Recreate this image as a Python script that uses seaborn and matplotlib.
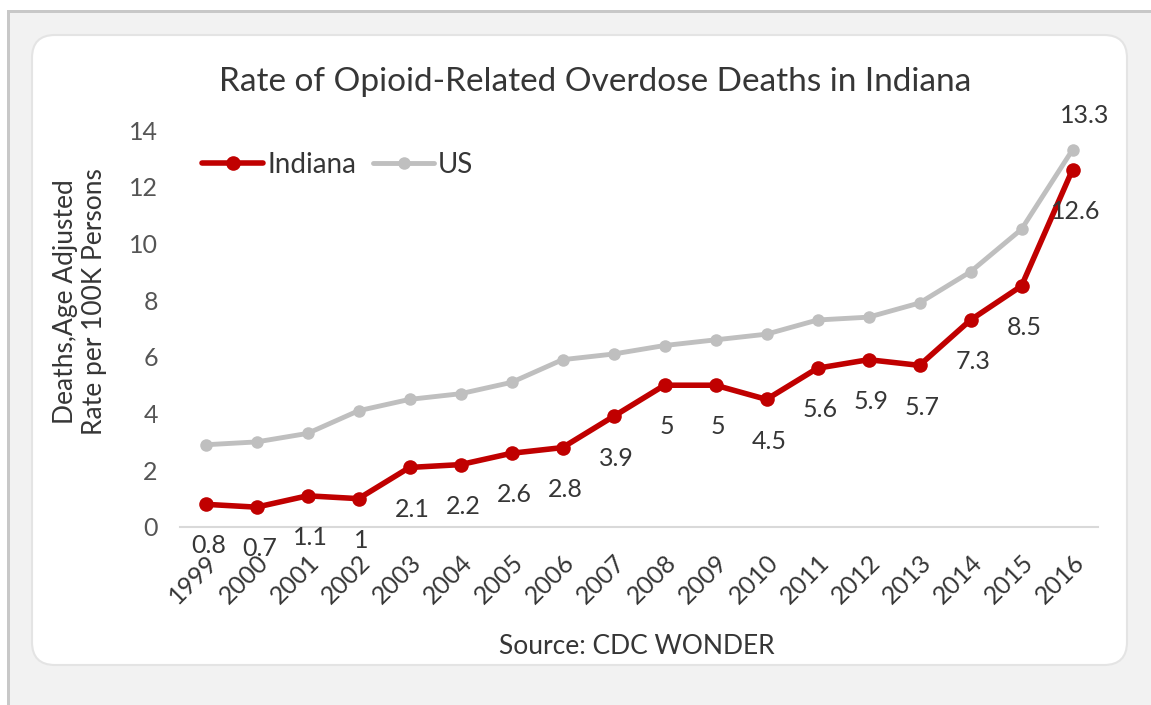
import numpy as np
import pandas as pd
import matplotlib
matplotlib.use("Agg")
import matplotlib.pyplot as plt
from matplotlib.patches import FancyBboxPatch, Rectangle
from matplotlib.lines import Line2D
import seaborn as sns

years = [1999, 2000, 2001, 2002, 2003, 2004, 2005, 2006, 2007, 2008,
         2009, 2010, 2011, 2012, 2013, 2014, 2015, 2016]
indiana = [0.8, 0.7, 1.1, 1.0, 2.1, 2.2, 2.6, 2.8, 3.9, 5.0,
           5.0, 4.5, 5.6, 5.9, 5.7, 7.3, 8.5, 12.6]
us = [2.9, 3.0, 3.3, 4.1, 4.5, 4.7, 5.1, 5.9, 6.1, 6.4,
      6.6, 6.8, 7.3, 7.4, 7.9, 9.0, 10.5, 13.3]
indiana_labels = ["0.8", "0.7", "1.1", "1", "2.1", "2.2", "2.6", "2.8", "3.9", "5",
                  "5", "4.5", "5.6", "5.9", "5.7", "7.3", "8.5", "12.6"]
us_label = "13.3"
y_ticks = [0, 2, 4, 6, 8, 10, 12, 14]

sns.set_theme(style="white")
plt.rcParams['font.family'] = ['Lato', 'DejaVu Sans']

TXT = "#363636"
W, H = 1151, 705
fig = plt.figure(figsize=(W / 100, H / 100), dpi=100)
fig.patch.set_facecolor("white")

# outer frame and background
fig.patches.append(Rectangle((7 / W, 0), (W - 7) / W, (H - 10) / H, transform=fig.transFigure,
                             facecolor="#f2f2f2", edgecolor="none", zorder=-10))
fig.patches.append(Rectangle((7 / W, 0), 3 / W, (H - 10) / H, transform=fig.transFigure,
                             facecolor="#c8c8c8", edgecolor="none", zorder=-9))
fig.patches.append(Rectangle((7 / W, (H - 13) / H), (W - 7) / W, 3 / H, transform=fig.transFigure,
                             facecolor="#c8c8c8", edgecolor="none", zorder=-9))
fig.patches.append(FancyBboxPatch((32 / W, (H - 665) / H), (1127 - 32) / W, (665 - 35) / H,
                                  boxstyle="round,pad=0,rounding_size=0.02",
                                  transform=fig.transFigure, facecolor="white",
                                  edgecolor="#e4e4e4", linewidth=1.5, zorder=-8,
                                  mutation_aspect=W / H))

ax = fig.add_axes([180 / W, 1 - 527 / H, (1098 - 180) / W, (527 - 130) / H])
ax.set_facecolor("none")

df = pd.DataFrame({
    "Year": years * 2,
    "Rate": indiana + us,
    "Series": ["Indiana"] * len(years) + ["US"] * len(years),
})

sns.lineplot(data=df[df.Series == "US"], x="Year", y="Rate", color="#bfbfbf",
             marker="o", markersize=9, markeredgewidth=0, linewidth=3.5, ax=ax, legend=False)
sns.lineplot(data=df[df.Series == "Indiana"], x="Year", y="Rate", color="#c00000",
             marker="o", markersize=10.5, markeredgewidth=0, linewidth=4, ax=ax, legend=False)

ax.set_xlim(years[0] - 0.5, years[-1] + 0.5)
ax.set_ylim(0, 14)
ax.set_yticks(y_ticks)
ax.set_yticklabels([str(t) for t in y_ticks], fontsize=18, color="#555555")
ax.set_xticks(years)
ax.set_xticklabels([str(y) for y in years], rotation=45, ha="right",
                   rotation_mode="anchor", fontsize=18, color=TXT)
ax.tick_params(axis="y", length=0, pad=16)
ax.tick_params(axis="x", length=0, pad=17)
# boundary tick marks (Excel style)
ax.set_xticks([y + 0.5 for y in years[:-1]], minor=True)
ax.tick_params(axis="x", which="minor", length=5, color="#d9d9d9", width=1, direction="out")
for s in ["top", "right", "left"]:
    ax.spines[s].set_visible(False)
ax.spines["bottom"].set_color("#d9d9d9")
ax.spines["bottom"].set_linewidth(1.5)
ax.set_xlabel("")
ax.set_ylabel("")

for x, v, lab in zip(years, indiana, indiana_labels):
    ax.annotate(lab, (x, v), xytext=(2, -30), textcoords="offset points",
                ha="center", va="center", fontsize=18, color=TXT,
                annotation_clip=False)
ax.annotate(us_label, (years[-1], us[-1]), xytext=(9, 25), textcoords="offset points",
            ha="center", va="center", fontsize=18, color=TXT, annotation_clip=False)

# legend
handles = [Line2D([], [], color="#c00000", lw=4, marker="o", markersize=10.5, markeredgewidth=0),
           Line2D([], [], color="#bfbfbf", lw=3.5, marker="o", markersize=9, markeredgewidth=0)]
ax.legend(handles, ["Indiana", "US"], ncol=2, frameon=False, loc="center left",
          bbox_to_anchor=(0.012, 0.912), fontsize=20, handlelength=2.2, handletextpad=0.15,
          columnspacing=0.6, labelcolor=TXT, borderaxespad=0)

fig.text(595 / W, 1 - 82 / H, "Rate of Opioid-Related Overdose Deaths in Indiana",
         ha="center", va="center", fontsize=24, color=TXT)
fig.text(80 / W, 1 - 302 / H, "Deaths,Age Adjusted\nRate per 100K Persons",
         ha="center", va="center", rotation=90, fontsize=19, color=TXT,
         linespacing=1.2)
fig.text(637 / W, 1 - 646 / H, "Source: CDC WONDER", ha="center", va="center",
         fontsize=19, color=TXT)

fig.savefig("out.png", dpi=100)
